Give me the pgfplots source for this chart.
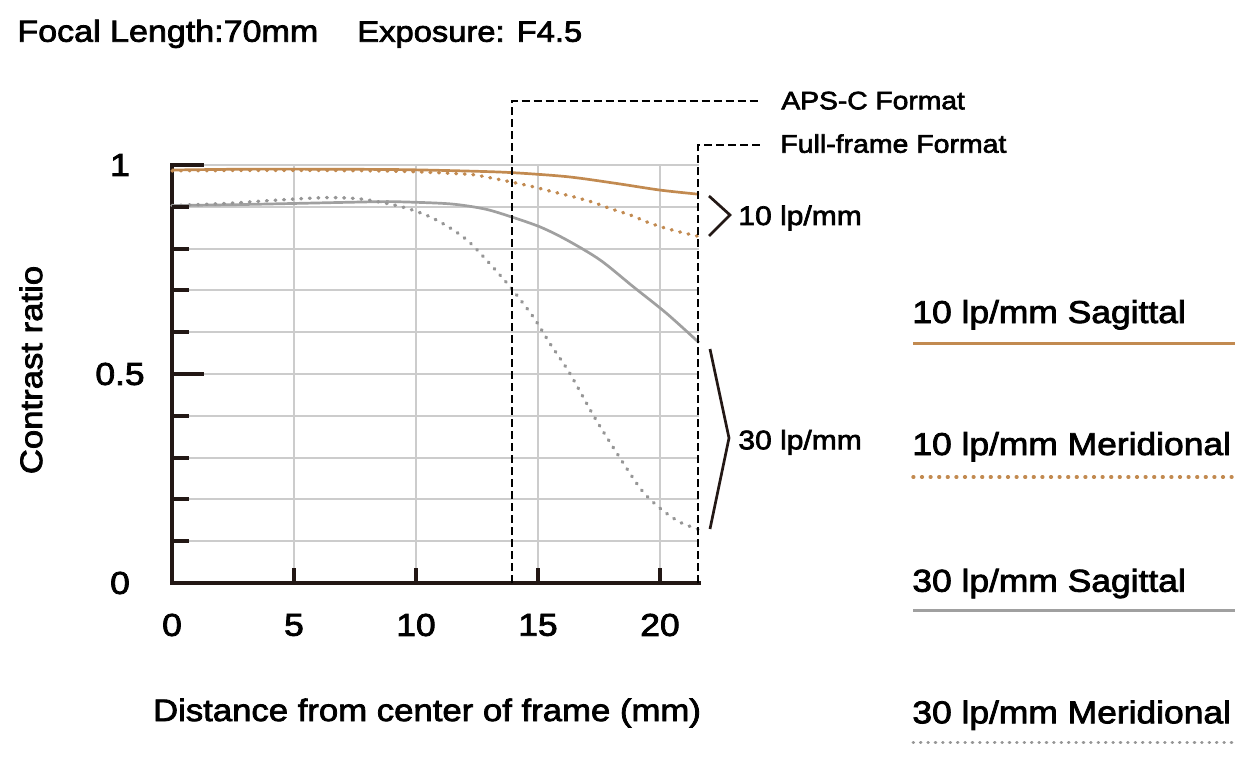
\documentclass[border=0pt]{standalone}
\usepackage{fontspec}
\setmainfont{Liberation Sans}[FakeStretch=1.12, UprightFeatures={FakeBold=2.5}]
\usepackage{pgfplots}
\pgfplotsset{compat=1.18}

\definecolor{spine}{RGB}{35,24,21}
\definecolor{tan}{RGB}{194,138,80}
\definecolor{gsol}{RGB}{160,160,160}
\definecolor{gdot}{RGB}{150,150,150}
\definecolor{gridgray}{RGB}{204,204,204}
\newcommand\fs[1]{\fontsize{#1}{#1}\selectfont}

\tikzset{
  solidline/.style={line width=1.35pt},
  dotline/.style={line width=1.7pt, line cap=round, dash pattern=on 0.4pt off 3.9pt},
  frameline/.style={black, line width=1pt, dash pattern=on 4pt off 2pt},
}

\begin{document}
\begin{tikzpicture}
% page = 1255 x 762 px, 1 px = 0.5pt; pixel (172,583) is the axis origin
\begin{scope}[x=0.5pt,y=-0.5pt,shift={(-86pt,291.5pt)}]
\useasboundingbox (0,0) rectangle (1255,762);
\end{scope}

\begin{axis}[
    at={(0,0)}, anchor=south west,
    x=12.2pt, y=209pt,
    xmin=0, xmax=21.6, ymin=0, ymax=1,
    axis x line*=bottom, axis y line*=left,
    axis line style={line width=2pt, color=spine, -, line cap=rect},
    xtick={0,5,10,15,20},
    ytick={0,0.5,1},
    minor ytick={0.1,0.2,0.3,0.4,0.6,0.7,0.8,0.9},
    xmajorgrids, ymajorgrids, yminorgrids,
    grid style={line width=1pt, color=gridgray},
    major tick length=0pt, minor tick length=0pt,
    tick label style={font=\fs{15.8}, text=black},
    /pgf/number format/assume math mode=true,
    yticklabel style={anchor=center, xshift=-26pt},
    xticklabel style={anchor=center, yshift=-21pt},
    clip=false,
]
% 10 lp/mm Sagittal
\addplot[tan, solidline, smooth] coordinates {
    (0,0.988) (3,0.990) (6,0.990) (9.3,0.989) (11.8,0.986) (13.85,0.982)
    (16.2,0.972) (18.2,0.956) (20,0.940) (21.6,0.930)
};
% 10 lp/mm Meridional
\addplot[tan, dotline, smooth] coordinates {
    (0,0.986) (3,0.987) (6,0.987) (9.3,0.985) (12.1,0.978) (12.9,0.971)
    (13.85,0.960) (14.8,0.948) (15.6,0.936) (16.45,0.924) (17.3,0.910)
    (17.95,0.896) (18.8,0.880) (19.45,0.864) (20.1,0.851) (20.8,0.840) (21.6,0.829)
};
% 30 lp/mm Sagittal
\addplot[gsol, solidline, smooth] coordinates {
    (0,0.903) (2.5,0.905) (5,0.908) (8.25,0.912) (9.3,0.912) (11.4,0.907)
    (12.8,0.895) (13.85,0.877) (15.08,0.852) (16.17,0.821) (17.54,0.773)
    (18.9,0.709) (20.27,0.645) (21.6,0.575)
};
% 30 lp/mm Meridional
\addplot[gdot, dotline, smooth] coordinates {
    (0,0.903) (2.2,0.908) (4.3,0.916) (6.3,0.922) (7.7,0.919) (8.8,0.908)
    (9.6,0.897) (10.5,0.878) (11.3,0.853) (12.1,0.820) (12.9,0.772)
    (13.85,0.709) (14.8,0.637) (15.5,0.572) (16.3,0.502) (17.3,0.398)
    (18.35,0.300) (19.25,0.222) (20.0,0.179) (20.8,0.146) (21.6,0.128)
};
\end{axis}

\begin{scope}[x=0.5pt,y=-0.5pt,shift={(-86pt,291.5pt)}]
% ticks
\foreach \k in {1,2,3,4,6,7,8,9}
  \draw[spine, line width=2pt] (172,{583-41.8*\k}) -- (189,{583-41.8*\k});
\foreach \k in {5,10}
  \draw[spine, line width=2pt] (172,{583-41.8*\k}) -- (204,{583-41.8*\k});
\foreach \v in {5,10,15,20}
  \draw[spine, line width=2pt] ({172+24.4*\v},583) -- ({172+24.4*\v},568);

% format frames
\draw[frameline] (511.7,583) -- (511.7,101) -- (760,101);
\draw[frameline] (698,583) -- (698,145) -- (760,145);
\node[anchor=base west, inner sep=0pt, font=\fs{12.6}] at (781,109.3) {APS-C Format};
\node[anchor=base west, inner sep=0pt, font=\fs{12.7}] at (780,152.7) {Full-frame Format};

% brackets
\draw[spine, line width=1.35pt] (709,196) -- (730,215) -- (709,236);
\draw[spine, line width=1.35pt] (710,349) -- (729,438) -- (710,529);
\node[anchor=base west, inner sep=0pt, font=\fs{13.4}] at (738,225) {10 lp/mm};
\node[anchor=base west, inner sep=0pt, font=\fs{13.4}] at (738,449.3) {30 lp/mm};

% titles and axis labels
\node[anchor=base west, inner sep=0pt, font=\fs{15.2}] at (17,41.7) {Focal Length:70mm};
\node[anchor=base west, inner sep=0pt, font=\fs{14.6}] at (357,41.7) {Exposure: F4.5};
\node[rotate=90, inner sep=0pt, font=\fs{15.5}] at (31,370) {Contrast ratio};
\node[inner sep=0pt, font=\fs{15.5}] at (427,713) {Distance from center of frame (mm)};

% legend
\node[anchor=base west, inner sep=0pt, font=\fs{15.8}] at (912,323) {10 lp/mm Sagittal};
\draw[tan, solidline] (913,343.5) -- (1235,343.5);
\node[anchor=base west, inner sep=0pt, font=\fs{15.8}] at (912,455) {10 lp/mm Meridional};
\draw[tan, dotline] (913,477) -- (1235,477);
\node[anchor=base west, inner sep=0pt, font=\fs{15.8}] at (912,591.7) {30 lp/mm Sagittal};
\draw[gsol, solidline] (913,610.5) -- (1235,610.5);
\node[anchor=base west, inner sep=0pt, font=\fs{15.8}] at (912,723.3) {30 lp/mm Meridional};
\draw[gdot, line width=1.5pt, line cap=round, dash pattern=on 0.3pt off 3.4pt] (913,742) -- (1235,742);
\end{scope}
\end{tikzpicture}
\end{document}
